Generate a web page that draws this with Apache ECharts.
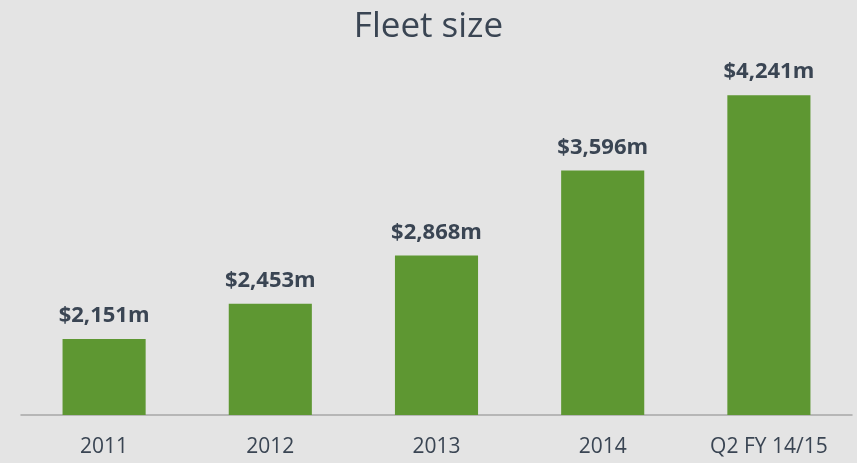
<!DOCTYPE html>
<html>
<head>
<meta charset="utf-8">
<script src="https://cdn.jsdelivr.net/npm/echarts@6/dist/echarts.min.js"></script>
<style>
  html, body { margin: 0; padding: 0; background: #e4e4e4; }
  #chart { width: 857px; height: 463px; }
</style>
</head>
<body>
<div id="chart"></div>
<script>
// categories and values
var categories = ['2011', '2012', '2013', '2014', 'Q2 FY 14/15'];
var fleetValues = [2151, 2453, 2868, 3596, 4241];

var textColor = '#3a4553';
var chart = echarts.init(document.getElementById('chart'));
var option = {
    backgroundColor: '#e4e4e4',
    title: {
        text: 'Fleet size',
        left: 'center',
        top: 5,
        textStyle: {
            fontFamily: 'Open Sans',
            fontSize: 35,
            fontWeight: 'normal',
            color: textColor
        }
    },
    grid: {
        left: 21,
        right: 5,
        top: 65,
        bottom: 48
    },
    xAxis: {
        type: 'category',
        data: categories,
        axisLine: { lineStyle: { color: '#a6a6a6', width: 1.5 } },
        axisTick: { show: false },
        axisLabel: {
            color: textColor,
            fontFamily: 'Open Sans',
            fontSize: 21,
            margin: 22
        }
    },
    yAxis: {
        type: 'value',
        show: false,
        min: 1500,
        max: 4500
    },
    series: [{
        type: 'bar',
        data: fleetValues,
        barWidth: '50%',
        itemStyle: { color: '#5e9732' },
        label: {
            show: true,
            position: 'top',
            distance: 12,
            color: textColor,
            fontFamily: 'Open Sans',
            fontWeight: 'bold',
            fontSize: 22,
            formatter: function (p) {
                return '$' + p.value.toLocaleString('en-US') + 'm';
            }
        }
    }]
};
chart.setOption(option);
</script>
</body>
</html>
